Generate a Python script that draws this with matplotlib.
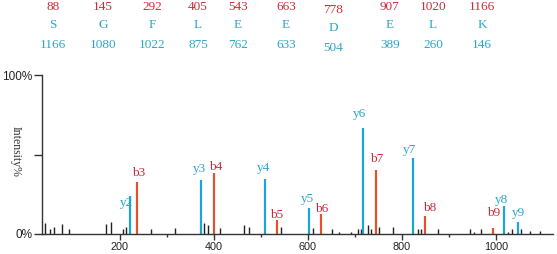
import matplotlib
matplotlib.use("Agg")
import matplotlib.pyplot as plt
from matplotlib.ticker import FixedLocator

# ---- data ----
b_labels = ["b3", "b4", "b5", "b6", "b7", "b8", "b9"]
b_mz = [237, 400, 534, 628, 745, 850, 994]
b_int = [33, 38.6, 8.8, 12.6, 40, 11.3, 4]

y_labels = ["y2", "y3", "y4", "y5", "y6", "y7", "y8", "y9"]
y_mz = [222, 373, 509, 603, 717, 823, 1016, 1046]
y_int = [24, 34, 34.4, 16.5, 66.5, 48, 17.6, 7.5]

noise_mz = [41, 51, 60, 77, 92, 171.5, 181, 207, 213, 266, 318, 380, 387.5, 414,
            465, 475, 543, 612, 652, 667, 692, 706, 713, 727, 734, 752, 782, 834,
            841, 876, 945, 954, 968, 1026, 1033, 1053, 1072, 1093]
noise_int = [6.7, 3.1, 4.6, 6.3, 3, 6.1, 7.4, 3, 4.6, 3, 4, 7.1, 5.7, 3.6,
             5.7, 4.2, 4.2, 3.6, 3, 1.5, 1.5, 3.2, 3, 5.7, 3, 4.6, 4.6, 3,
             3.2, 3, 3, 1.5, 3, 1.5, 3, 3, 2, 2]

top_b_masses = ["88", "145", "292", "405", "543", "663", "778", "907", "1020", "1166"]
residues = ["S", "G", "F", "L", "E", "E", "D", "E", "L", "K"]
top_y_masses = ["1166", "1080", "1022", "875", "762", "633", "504", "389", "260", "146"]

x_major = [200, 400, 600, 800, 1000]
x_minor = [300, 500, 700, 900]
y_ticks = [0, 50, 100]
y_ticklabels = ["0%", "", "100%"]

# ---- style ----
W, H = 557, 254
RED_BAR = "#e2522c"
RED_TXT = "#cf2a3a"
CYAN_BAR = "#1ca4dc"
CYAN_TXT = "#2aa7c8"
SERIF = ["Liberation Serif", "DejaVu Serif"]
SANS = ["Liberation Sans", "DejaVu Sans"]

fig = plt.figure(figsize=(W / 100, H / 100), dpi=100)
ax = fig.add_axes([42 / W, 1 - 234 / H, (553 - 42) / W, (234 - 75) / H])
ax.set_xlim(35, 1121)
ax.set_ylim(0, 100)

ax.vlines(noise_mz, 0, noise_int, color="#222222", lw=1.0)
ax.vlines(b_mz, 0, b_int, color=RED_BAR, lw=1.6)
ax.vlines(y_mz, 0, y_int, color=CYAN_BAR, lw=1.6)

b_off = [(2, 9), (2, 6), (0, 5), (1, 5), (1, 11), (4, 8), (0, 15)]
y_off = [(-3, -7), (-2, 11), (-2, 11), (-2, 9), (-3, 14), (-3, 8), (-2, 6), (1, 9)]
for lab, x, h, off in zip(b_labels, b_mz, b_int, b_off):
    ax.annotate(lab, (x, h), xytext=off, textcoords="offset pixels",
                ha="center", va="center", color=RED_TXT, fontsize=9.5, family=SERIF)
for lab, x, h, off in zip(y_labels, y_mz, y_int, y_off):
    ax.annotate(lab, (x, h), xytext=off, textcoords="offset pixels",
                ha="center", va="center", color=CYAN_TXT, fontsize=9.5, family=SERIF)

for s in ["top", "right"]:
    ax.spines[s].set_visible(False)
ax.spines["left"].set_color("#333333")
ax.spines["bottom"].set_color("#333333")
ax.spines["left"].set_linewidth(1.0)
ax.spines["bottom"].set_linewidth(1.0)

ax.xaxis.set_major_locator(FixedLocator(x_major))
ax.xaxis.set_minor_locator(FixedLocator(x_minor))
ax.tick_params(axis="x", which="major", length=4.5, width=1, color="#333333",
               labelsize=7.8, pad=1.5, labelcolor="#222222")
ax.tick_params(axis="x", which="minor", length=2.5, width=1, color="#333333")
ax.set_yticks(y_ticks)
ax.set_yticklabels(y_ticklabels)
ax.tick_params(axis="y", length=6, width=1, color="#333333", labelsize=8.5,
               pad=1.0, labelcolor="#222222")
for t in ax.get_xticklabels() + ax.get_yticklabels():
    t.set_family(SANS)

fig.text(16 / W, 1 - 151 / H, "Intensity%", rotation=-90, ha="center", va="center",
         fontsize=8.5, family=SERIF, color="#333333")

col_x = [53, 103, 152, 198, 238, 286, 333, 390, 433, 482]
col_dy = [0, 0, 0, 0, 0, 0, 3, 0, 0, 0]
for cx, dy, bm, r, ym in zip(col_x, col_dy, top_b_masses, residues, top_y_masses):
    fig.text(cx / W, 1 - (7 + dy) / H, bm, ha="center", va="center",
             fontsize=9.5, family=SERIF, color=RED_TXT)
    fig.text(cx / W, 1 - (25 + dy) / H, r, ha="center", va="center",
             fontsize=9.5, family=SERIF, color=CYAN_TXT)
    fig.text(cx / W, 1 - (45 + dy) / H, ym, ha="center", va="center",
             fontsize=9.5, family=SERIF, color=CYAN_TXT)

fig.savefig("out.png", dpi=100)
